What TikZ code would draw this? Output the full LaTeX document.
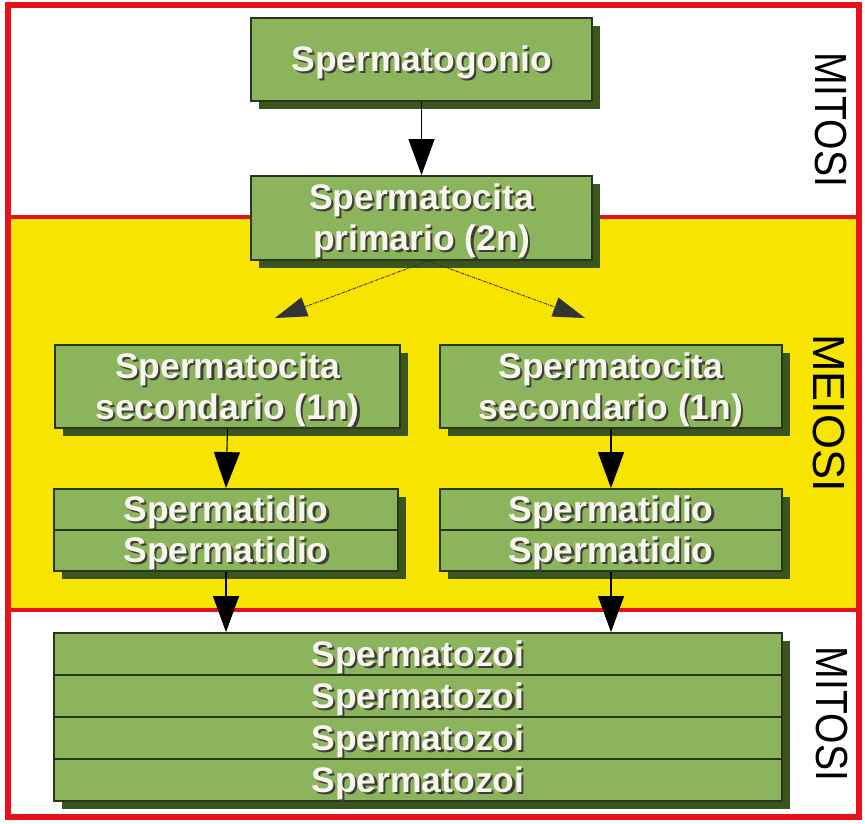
\documentclass[tikz,border=0pt]{standalone}
\usepackage{fontspec}
\setmainfont{Liberation Sans}
\usetikzlibrary{arrows.meta,shadows}

\definecolor{framered}{RGB}{232,18,26}
\definecolor{bandyellow}{RGB}{247,228,0}
\definecolor{boxgreen}{RGB}{140,180,92}
\definecolor{boxedge}{RGB}{40,55,25}
\definecolor{boxshadow}{RGB}{58,86,30}
\definecolor{txtsh}{RGB}{62,62,52}
\definecolor{txtwhite}{RGB}{246,246,238}

% white lettering with a dark offset copy underneath, set a little low
\newcommand\embtext[1]{%
  \raisebox{-4pt}[\height][\depth]{%
  \makebox[0pt]{\hspace{4.4pt}\raisebox{-2.2pt}{\textcolor{txtsh}{#1}}}%
  \makebox[0pt]{\textcolor{txtwhite}{#1}}}}

\begin{document}
\begin{tikzpicture}[x=1pt,y=-1pt,
  cell/.style={draw=boxedge, line width=1.8pt, fill=boxgreen, inner sep=0pt,
    align=center, font=\fontsize{35.5}{41}\selectfont\bfseries,
    drop shadow={shadow xshift=8pt, shadow yshift=-8pt, fill=boxshadow, opacity=1}},
  wide/.style={minimum width=341pt},
  flow/.style={line width=1.1pt, draw=black, -{Triangle[width=26pt,length=36pt]}},
  split/.style={line width=0.9pt, draw=black!80, densely dash dot,
    -{Triangle[width=20pt,length=32pt]}},
  phase/.style={font=\fontsize{45}{50}\selectfont, rotate=-90, inner sep=0pt}]

\useasboundingbox (0,0) rectangle (865,824);
\fill[white] (0,0) rectangle (865,824);

% coloured bands and red frame
\fill[bandyellow] (8,217) rectangle (859,610);
\draw[framered, line width=4pt] (8,217) -- (859,217);
\draw[framered, line width=4pt] (8,610) -- (859,610);
\draw[framered, line width=6pt] (8,5) rectangle (859,817);

% boxes
\node[cell, wide, minimum height=83pt] (spg) at (421.5,59.5) {\embtext{Spermatogonio}};
\node[cell, wide, minimum height=84pt] (spc) at (421.5,218)
  {\embtext{Spermatocita}\\\embtext{primario (2n)}};

\node[cell, minimum width=345pt, minimum height=83pt] (secL) at (227.5,386.5)
  {\embtext{Spermatocita}\\\embtext{secondario (1n)}};
\node[cell, minimum width=342pt, minimum height=83pt] (secR) at (611,386.5)
  {\embtext{Spermatocita}\\\embtext{secondario (1n)}};

\node[cell, minimum width=344pt, minimum height=41pt] (tidL1) at (226,509.5) {\embtext{Spermatidio}};
\node[cell, minimum width=344pt, minimum height=41pt] (tidL2) at (226,550.5) {\embtext{Spermatidio}};
\node[cell, minimum width=342pt, minimum height=41pt] (tidR1) at (611,509.5) {\embtext{Spermatidio}};
\node[cell, minimum width=342pt, minimum height=41pt] (tidR2) at (611,550.5) {\embtext{Spermatidio}};

\node[cell, minimum width=728pt, minimum height=42pt] (zoi1) at (418,654) {\embtext{Spermatozoi}};
\node[cell, minimum width=728pt, minimum height=42pt] (zoi2) at (418,696) {\embtext{Spermatozoi}};
\node[cell, minimum width=728pt, minimum height=42pt] (zoi3) at (418,738) {\embtext{Spermatozoi}};
\node[cell, minimum width=728pt, minimum height=42pt] (zoi4) at (418,780) {\embtext{Spermatozoi}};

% connectors
\draw[flow] (spg.south) -- (spc.north);
\coordinate (tipL) at (275,318);
\coordinate (tipR) at (585,318);
\draw[split] ([xshift=6.5pt]spc.south) -- (tipL);
\draw[split] ([xshift=6.5pt]spc.south) -- (tipR);
\draw[flow] (secL.south) -- (tidL1.north);
\draw[flow] (secR.south) -- (tidR1.north);
\draw[flow] (tidL2.south) -- (tidL2.south |- zoi1.north);
\draw[flow] (tidR2.south) -- (tidR2.south |- zoi1.north);

% phase labels
\node[phase] (mit1) at (831,120) {\scalebox{0.87}[1]{MITOSI}};
\node[phase] (mei) at (829,413) {MEIOSI};
\node[phase] (mit2) at (832,714) {\scalebox{0.87}[1]{MITOSI}};
\end{tikzpicture}
\end{document}
